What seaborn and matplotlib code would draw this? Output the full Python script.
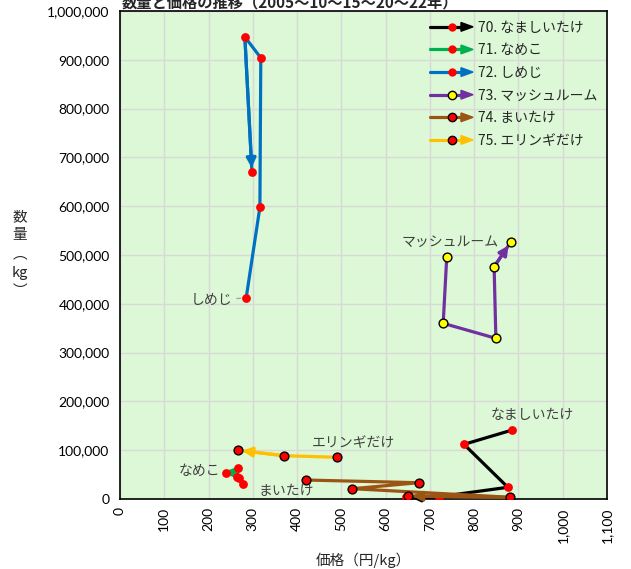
import matplotlib
matplotlib.use('Agg')
import matplotlib.pyplot as plt
import seaborn as sns
import pandas as pd
from matplotlib.legend_handler import HandlerBase
from matplotlib.lines import Line2D
from matplotlib.patches import Polygon
from matplotlib.ticker import MultipleLocator, FuncFormatter

# ---------------- data ----------------
namashi_price = [886, 777, 876, 721, 647]
namashi_qty = [141400, 112000, 24000, 4700, 3500]

nameko_price = [267, 239, 265, 268, 277]
nameko_qty = [62900, 53900, 45700, 42400, 30700]

shimeji_price = [285, 316, 318, 282, 298]
shimeji_qty = [412000, 598000, 904000, 947000, 670000]

mush_price = [738, 730, 849, 845, 883]
mush_qty = [495300, 360000, 329300, 476000, 526600]

maitake_price = [419, 675, 525, 882, 651]
maitake_qty = [38900, 33400, 21100, 3500, 6100]

eringi_price = [490, 371, 267]
eringi_qty = [85500, 88700, 99800]

legend_labels = ["70. なましいたけ", "71. なめこ", "72. しめじ",
                 "73. マッシュルーム", "74. まいたけ", "75. エリンギだけ"]
point_labels = ["なましいたけ", "なめこ", "しめじ", "マッシュルーム", "まいたけ", "エリンギだけ"]

title = "数量と価格の推移（2005～10～15～20～22年）"
x_label = "価格（円/kg）"
y_label = "数\n量\n︵\nkg\n︶"

# ---------------- style ----------------
sns.set_style('white')
plt.rcParams['font.family'] = ['Noto Sans CJK JP', 'DejaVu Sans']

series = [
    dict(p=namashi_price, q=namashi_qty, color='#000000', mfc='#FF0000', mec='#FF0000', li=0, off=(20, 15), ha='center', leader=False),
    dict(p=nameko_price, q=nameko_qty, color='#00B050', mfc='#FF0000', mec='#FF0000', li=1, off=(-5, 2), ha='right', leader=False),
    dict(p=shimeji_price, q=shimeji_qty, color='#0070C0', mfc='#FF0000', mec='#FF0000', li=0, off=(-14, -2), ha='right', leader=True),
    dict(p=mush_price, q=mush_qty, color='#7030A0', mfc='#FFFF00', mec='#000000', li=0, off=(3, 15), ha='center', leader=False),
    dict(p=maitake_price, q=maitake_qty, color='#9A5515', mfc='#FF0000', mec='#000000', li=0, off=(-19, -11), ha='center', leader=False),
    dict(p=eringi_price, q=eringi_qty, color='#FFC000', mfc='#FF0000', mec='#000000', li=0, off=(17, 14), ha='center', leader=False),
]

W, H = 631, 569
fig = plt.figure(figsize=(W / 100, H / 100), dpi=100)
ax = fig.add_axes([120 / W, 1 - 499 / H, (607 - 120) / W, (499 - 11) / H])
ax.set_facecolor('#DCF8D6')

for i, s in enumerate(series):
    z = 3 + i
    df = pd.DataFrame({'price': s['p'], 'qty': s['q']})
    sns.lineplot(data=df, x='price', y='qty', sort=False, estimator=None, color=s['color'],
                 lw=2.3, ax=ax, legend=False, zorder=z)
    ax.annotate('', xy=(s['p'][-1], s['q'][-1]), xytext=(s['p'][-2], s['q'][-2]),
                arrowprops=dict(arrowstyle='-|>', color=s['color'], lw=2.3, mutation_scale=14,
                                shrinkA=0, shrinkB=3), zorder=z + 0.2)
    sns.scatterplot(data=df, x='price', y='qty', color=s['mfc'], edgecolor=s['mec'],
                    linewidth=1.0 if s['mec'] != s['mfc'] else 0, s=40, ax=ax, legend=False, zorder=z + 0.4)
    ap = dict(arrowstyle='-', color='#A6A6A6', lw=1, shrinkA=1, shrinkB=4) if s['leader'] else None
    k = s['li']
    ax.annotate(point_labels[i], xy=(s['p'][k], s['q'][k]), xytext=s['off'], textcoords='offset pixels',
                ha=s['ha'], va='center', fontsize=10, color='#404040', arrowprops=ap, zorder=20)

ax.set_xlim(0, 1100)
ax.set_ylim(0, 1000000)
ax.xaxis.set_major_locator(MultipleLocator(100))
ax.xaxis.set_minor_locator(MultipleLocator(20))
ax.yaxis.set_major_locator(MultipleLocator(100000))
ax.yaxis.set_minor_locator(MultipleLocator(20000))
fmt = FuncFormatter(lambda v, _: f"{int(v):,}")
ax.xaxis.set_major_formatter(fmt)
ax.yaxis.set_major_formatter(fmt)
ax.grid(True, which='major', color='#D9D9D9', lw=1, zorder=0)
ax.set_axisbelow(True)
ax.tick_params(axis='both', which='major', direction='inout', length=8, width=1, color='black',
               labelsize=10, labelcolor='#000000')
ax.tick_params(axis='both', which='minor', direction='in', length=4, width=1, color='black')
ax.tick_params(axis='x', which='major', labelrotation=90, pad=2)
for lab in ax.get_xticklabels() + ax.get_yticklabels():
    lab.set_family(['Lato', 'DejaVu Sans'])
for sp in ax.spines.values():
    sp.set_color('black')
    sp.set_linewidth(1.2)
ax.set_xlabel('')
ax.set_ylabel('')

fig.text(363 / W, 1 - 560 / H, x_label, ha='center', va='center', fontsize=10.5)
fig.text(20 / W, 1 - 254 / H, y_label, ha='center', va='center', fontsize=10.5, linespacing=1.42)
fig.text(290 / W, 1 - 2 / H, title, ha='center', va='center', fontsize=11, fontweight='bold')


class ArrowLegend(HandlerBase):
    def create_artists(self, legend, orig_handle, xdescent, ydescent, width, height, fontsize, trans):
        y = height / 2 - ydescent
        x0 = -xdescent
        x1 = x0 + width
        col = orig_handle.get_color()
        hl = width * 0.28
        line = Line2D([x0, x1 - hl * 0.6], [y, y], color=col, lw=2.3, transform=trans)
        head = Polygon([[x1 - hl, y + height * 0.45], [x1, y], [x1 - hl, y - height * 0.45]],
                       closed=True, fc=col, ec=col, transform=trans)
        mec = orig_handle.get_markeredgecolor()
        mfc = orig_handle.get_markerfacecolor()
        dot = Line2D([x0 + width * 0.5], [y], marker='o', ms=6, mfc=mfc, mec=mec,
                     mew=1.0 if mec != mfc else 0, ls='none', transform=trans)
        return [line, head, dot]


handles = [Line2D([], [], color=s['color'], marker='o', mfc=s['mfc'], mec=s['mec']) for s in series]
leg = ax.legend(handles, legend_labels, handler_map={Line2D: ArrowLegend()}, loc='upper right',
                bbox_to_anchor=(1.0, 1.0), frameon=False, fontsize=10, handlelength=3.1,
                handletextpad=0.35, labelspacing=0.62, borderaxespad=0.3)
leg.set_zorder(30)

fig.savefig('out.png', dpi=100, facecolor='white')
